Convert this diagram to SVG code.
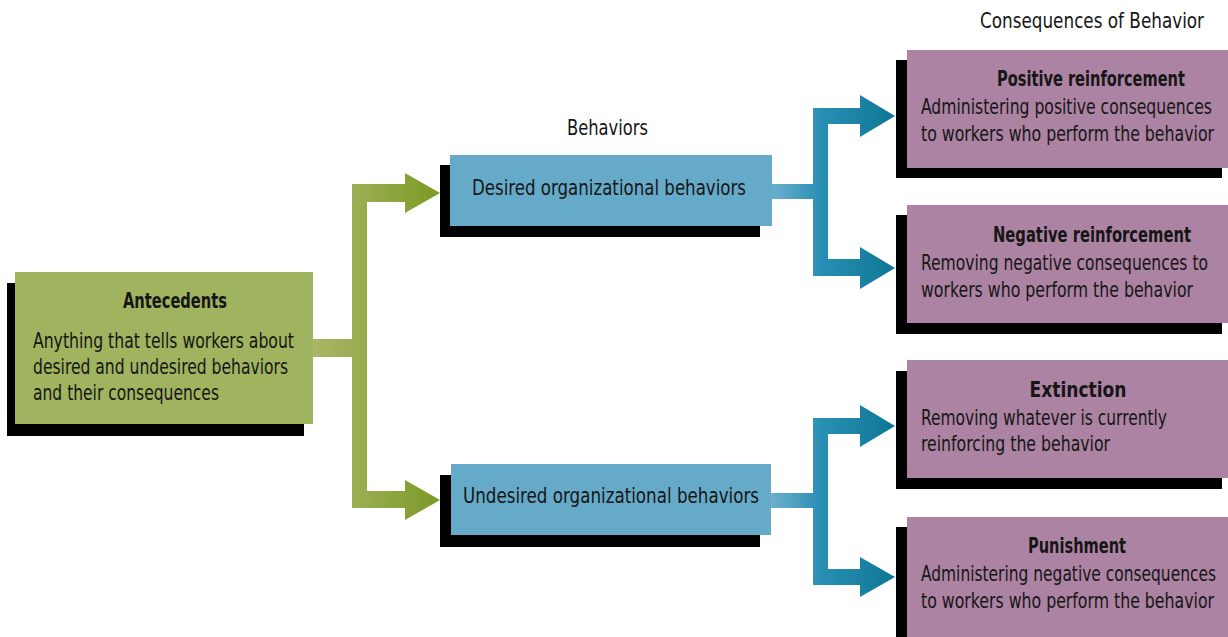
<svg xmlns="http://www.w3.org/2000/svg" width="1228" height="637" viewBox="0 0 1228 637">
  <style>
    .t { font-family: "Liberation Sans Narrow", "DejaVu Sans Condensed", "Liberation Sans", sans-serif; fill: #161616; font-size: 22px; }
    .b { font-weight: bold; font-size: 21px; }
    .m { text-anchor: middle; }
    .shadow { fill: #000; }
    .green { fill: #a0b35f; }
    .blue { fill: #66aac9; }
    .purple { fill: #ac83a2; }
  </style>
  <defs>
    <linearGradient id="gradGreen" gradientUnits="userSpaceOnUse" x1="313" y1="0" x2="440" y2="0">
      <stop offset="0" stop-color="#aab666"/>
      <stop offset="0.35" stop-color="#9aae52"/>
      <stop offset="1" stop-color="#7b9925"/>
    </linearGradient>
    <linearGradient id="gradBlue" gradientUnits="userSpaceOnUse" x1="771" y1="0" x2="895" y2="0">
      <stop offset="0" stop-color="#6cafcd"/>
      <stop offset="0.4" stop-color="#2a8fb4"/>
      <stop offset="1" stop-color="#0e7795"/>
    </linearGradient>
  </defs>

  <rect width="1228" height="637" fill="#ffffff"/>

  <!-- headings -->
  <text class="t" x="980" y="28" textLength="224" lengthAdjust="spacingAndGlyphs">Consequences of  Behavior</text>
  <text class="t" x="567" y="135" textLength="81" lengthAdjust="spacingAndGlyphs">Behaviors</text>

  <!-- connectors -->
  <g id="connectors">
    <path fill="url(#gradGreen)" d="M313,339 H360 V357 H313 Z M352,184 H367 V508 H352 Z M352,184 H406 V202 H352 Z M405,173 L440,193 L405,213 Z M352,491 H406 V508 H352 Z M405,480 L440,500 L405,520 Z"/>
    <path fill="url(#gradBlue)" d="M771,184 H828 V199 H771 Z M813,108 H828 V276 H813 Z M813,108 H862 V124 H813 Z M860,95 L895,116 L860,137 Z M813,259 H862 V276 H813 Z M860,247 L895,268 L860,289 Z"/>
    <path fill="url(#gradBlue)" d="M771,493 H828 V508 H771 Z M813,418 H828 V585 H813 Z M813,418 H862 V434 H813 Z M860,405 L895,426 L860,447 Z M813,569 H862 V585 H813 Z M860,557 L895,577 L860,597 Z"/>
  </g>

  <!-- antecedents -->
  <g id="antecedents">
    <rect class="shadow" x="7" y="283" width="297" height="153"/>
    <rect class="green" x="15" y="272" width="298" height="152"/>
    <text class="t b m" x="175" y="308" textLength="104" lengthAdjust="spacingAndGlyphs">Antecedents</text>
    <text class="t" x="33" y="348" textLength="261" lengthAdjust="spacingAndGlyphs">Anything that tells workers about</text>
    <text class="t" x="33" y="374" textLength="255" lengthAdjust="spacingAndGlyphs">desired and undesired behaviors</text>
    <text class="t" x="33" y="400" textLength="186" lengthAdjust="spacingAndGlyphs">and their consequences</text>
  </g>

  <!-- behaviors -->
  <g id="desired">
    <rect class="shadow" x="440" y="165" width="320" height="72"/>
    <rect class="blue" x="450" y="155" width="322" height="71"/>
    <text class="t" x="472" y="195" textLength="274" lengthAdjust="spacingAndGlyphs">Desired organizational behaviors</text>
  </g>
  <g id="undesired">
    <rect class="shadow" x="440" y="475" width="320" height="72"/>
    <rect class="blue" x="451" y="464" width="320" height="71"/>
    <text class="t" x="463" y="503" textLength="296" lengthAdjust="spacingAndGlyphs">Undesired organizational behaviors</text>
  </g>

  <!-- consequences -->
  <g id="positive">
    <rect class="shadow" x="896" y="60" width="326" height="118"/>
    <rect class="purple" x="907" y="50" width="321" height="118"/>
    <text class="t b m" x="1091" y="86" textLength="188" lengthAdjust="spacingAndGlyphs">Positive reinforcement</text>
    <text class="t" x="921" y="114" textLength="291" lengthAdjust="spacingAndGlyphs">Administering positive consequences</text>
    <text class="t" x="921" y="141" textLength="293" lengthAdjust="spacingAndGlyphs">to workers who perform the behavior</text>
  </g>
  <g id="negative">
    <rect class="shadow" x="896" y="215" width="326" height="119"/>
    <rect class="purple" x="907" y="205" width="321" height="118"/>
    <text class="t b m" x="1092" y="242" textLength="198" lengthAdjust="spacingAndGlyphs">Negative reinforcement</text>
    <text class="t" x="921" y="270" textLength="287" lengthAdjust="spacingAndGlyphs">Removing negative consequences to</text>
    <text class="t" x="921" y="297" textLength="272" lengthAdjust="spacingAndGlyphs">workers who perform the behavior</text>
  </g>
  <g id="extinction">
    <rect class="shadow" x="896" y="371" width="326" height="118"/>
    <rect class="purple" x="907" y="360" width="321" height="118"/>
    <text class="t b m" x="1078" y="397" textLength="97" lengthAdjust="spacingAndGlyphs">Extinction</text>
    <text class="t" x="921" y="425" textLength="246" lengthAdjust="spacingAndGlyphs">Removing whatever is currently</text>
    <text class="t" x="921" y="451" textLength="189" lengthAdjust="spacingAndGlyphs">reinforcing the behavior</text>
  </g>
  <g id="punishment">
    <rect class="shadow" x="896" y="527" width="326" height="120"/>
    <rect class="purple" x="907" y="517" width="321" height="125"/>
    <text class="t b m" x="1077" y="553" textLength="98" lengthAdjust="spacingAndGlyphs">Punishment</text>
    <text class="t" x="921" y="581" textLength="295" lengthAdjust="spacingAndGlyphs">Administering negative consequences</text>
    <text class="t" x="921" y="608" textLength="293" lengthAdjust="spacingAndGlyphs">to workers who perform the behavior</text>
  </g>
</svg>
